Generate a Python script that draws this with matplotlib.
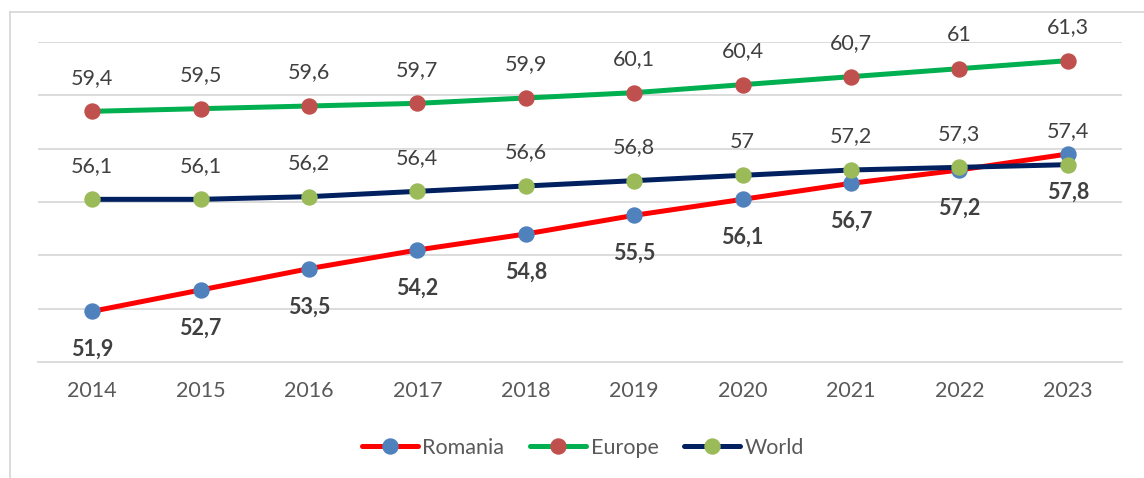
import matplotlib
matplotlib.use("Agg")
import matplotlib.pyplot as plt
from matplotlib.lines import Line2D

years = ["2014", "2015", "2016", "2017", "2018", "2019", "2020", "2021", "2022", "2023"]
romania = [51.9, 52.7, 53.5, 54.2, 54.8, 55.5, 56.1, 56.7, 57.2, 57.8]
europe = [59.4, 59.5, 59.6, 59.7, 59.9, 60.1, 60.4, 60.7, 61.0, 61.3]
world = [56.1, 56.1, 56.2, 56.4, 56.6, 56.8, 57.0, 57.2, 57.3, 57.4]

def fmt(v):
    s = f"{v:.1f}"
    if s.endswith(".0"):
        s = s[:-2]
    return s.replace(".", ",")

plt.rcParams['font.family'] = ['Lato', 'DejaVu Sans']
W, H = 1144, 478
fig = plt.figure(figsize=(W / 100, H / 100), dpi=100)
ax = fig.add_axes([38 / W, 1 - 362 / H, (1122 - 38) / W, (362 - 42) / H])

x = list(range(len(years)))
ms = 10.8
lw = 3.6
ax.plot(x, romania, color="#FF0000", lw=lw, marker="o", ms=ms, mfc="#4F81BD", mec="#4F81BD",
        zorder=3, label="Romania", solid_capstyle="round")
ax.plot(x, europe, color="#00B050", lw=lw, marker="o", ms=ms, mfc="#C0504D", mec="#C0504D",
        zorder=3, label="Europe", solid_capstyle="round")
ax.plot(x, world, color="#002060", lw=lw, marker="o", ms=ms, mfc="#9BBB59", mec="#9BBB59",
        zorder=4, label="World", solid_capstyle="round")

lab_col = "#404040"
fs = 15.5
for xi, v in zip(x, europe):
    ax.annotate(fmt(v), (xi, v), xytext=(0, 17), textcoords="offset points",
                ha="center", va="bottom", fontsize=fs, color=lab_col)
for xi, v in zip(x, world):
    ax.annotate(fmt(v), (xi, v), xytext=(0, 17), textcoords="offset points",
                ha="center", va="bottom", fontsize=fs, color=lab_col)
for xi, v in zip(x, romania):
    ax.annotate(fmt(v), (xi, v), xytext=(0, -20), textcoords="offset points",
                ha="center", va="top", fontsize=fs, color=lab_col, fontweight="bold")

ax.set_xlim(-0.5, len(years) - 0.5)
ax.set_ylim(50, 62)
ax.set_yticks([52, 54, 56, 58, 60, 62])
ax.yaxis.grid(True, color="#D9D9D9", lw=1.3)
ax.set_axisbelow(True)
ax.tick_params(axis="y", left=False, labelleft=False)
ax.set_xticks(x)
ax.set_xticklabels(years, fontsize=fs, color="#595959")
ax.tick_params(axis="x", length=0, pad=14)
for s in ["top", "right", "left"]:
    ax.spines[s].set_visible(False)
ax.spines["bottom"].set_color("#D9D9D9")
ax.spines["bottom"].set_linewidth(1.3)

leg = fig.legend(loc="center", bbox_to_anchor=(583 / W, 1 - 448 / H), ncol=3, frameon=False,
                 fontsize=fs, handlelength=2.6, handletextpad=0.2, columnspacing=1.2)
for t in leg.get_texts():
    t.set_color("#595959")

fig.add_artist(Line2D([9.5 / W, 9.5 / W], [0, 1 - 12 / H], color="#D9D9D9", lw=1.3))
fig.add_artist(Line2D([9.5 / W, 1], [1 - 12 / H, 1 - 12 / H], color="#D9D9D9", lw=1.3))

fig.savefig("out.png", dpi=100)
